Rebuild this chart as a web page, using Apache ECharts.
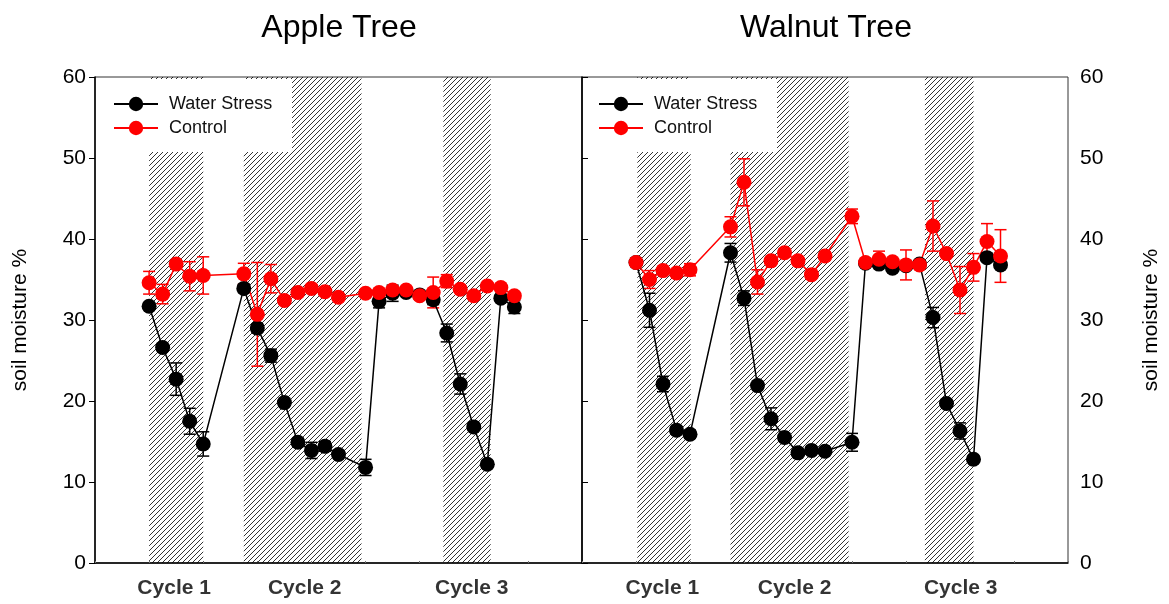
<!DOCTYPE html>
<html>
<head>
<meta charset="utf-8">
<script src="https://cdn.jsdelivr.net/npm/echarts@6/dist/echarts.min.js"></script>
<style>
  html, body { margin: 0; padding: 0; background: #fff; }
  #chart { width: 1169px; height: 604px; }
</style>
</head>
<body>
<div id="chart"></div>
<script>
// Sampling days (same for both trees and both treatments)
const days = [4, 5, 6, 7, 8, 11, 12, 13, 14, 15, 16, 17, 18, 20, 21, 22, 23, 24, 25, 26, 27, 28, 29, 30, 31];

// Apple tree soil moisture (%) and standard errors
const appleStress    = [31.7, 26.6, 22.7, 17.5, 14.7, 33.9, 29.0, 25.6, 19.8, 14.9, 13.9, 14.4, 13.4, 11.8, 32.3, 33.3, 33.4, 33.1, 32.5, 28.4, 22.1, 16.8, 12.2, 32.7, 31.6];
const appleStressErr = [0.4, 0.4, 2.0, 1.6, 1.5, 0.5, 0.5, 0.8, 0.4, 0.5, 1.0, 0.6, 0.4, 1.0, 0.8, 1.0, 0.4, 0.4, 0.6, 1.1, 1.25, 0.4, 0.4, 0.4, 0.8];
const appleControl    = [34.6, 33.2, 36.9, 35.4, 35.5, 35.7, 30.7, 35.1, 32.4, 33.4, 33.9, 33.5, 32.8, 33.3, 33.4, 33.7, 33.7, 33.0, 33.4, 34.8, 33.8, 33.0, 34.2, 34.0, 33.0];
const appleControlErr = [1.4, 1.2, 0.4, 1.8, 2.3, 1.3, 6.4, 1.75, 0.4, 0.4, 0.4, 0.4, 0.4, 0.4, 0.4, 0.4, 0.4, 0.4, 1.9, 0.8, 0.4, 0.4, 0.4, 0.4, 0.4];

// Walnut tree soil moisture (%) and standard errors
const walnutStress    = [37.1, 31.2, 22.1, 16.4, 15.9, 38.3, 32.7, 21.9, 17.8, 15.5, 13.6, 13.9, 13.8, 14.9, 37.0, 36.9, 36.4, 36.7, 36.9, 30.3, 19.7, 16.3, 12.8, 37.7, 36.8];
const walnutStressErr = [0.4, 2.1, 0.95, 0.4, 0.5, 1.15, 0.9, 0.4, 1.35, 0.4, 0.4, 0.4, 0.4, 1.1, 0.4, 0.4, 0.4, 0.4, 0.4, 1.25, 0.4, 1.0, 0.4, 0.4, 0.4];
const walnutControl    = [37.1, 35.0, 36.1, 35.8, 36.2, 41.5, 47.0, 34.7, 37.3, 38.3, 37.3, 35.6, 37.9, 42.8, 37.1, 37.5, 37.2, 36.8, 36.8, 41.6, 38.2, 33.7, 36.5, 39.7, 37.9];
const walnutControlErr = [0.4, 1.1, 0.4, 0.4, 0.75, 1.25, 2.9, 1.5, 0.4, 0.5, 0.4, 0.4, 0.5, 0.9, 0.4, 1.0, 0.4, 1.85, 0.4, 3.1, 0.4, 2.9, 1.7, 2.2, 3.25];

// Drought cycles (start day, end day)
const appleCycles  = [[4, 8], [11, 19.7], [25.75, 29.25]];
const walnutCycles = [[4.1, 8.05], [11, 19.75], [25.4, 29.0]];

// Cycle captions and the day each is centred on
const cycleNames = ['Cycle 1', 'Cycle 2', 'Cycle 3'];
const appleCycleLabelDay  = [5.85, 15.5, 27.85];
const walnutCycleLabelDay = [5.95, 15.75, 28.05];

const panelTitles = ['Apple Tree', 'Walnut Tree'];
const seriesNames = ['Water Stress', 'Control'];
const yTitle = 'soil moisture %';

const FONT = 'Liberation Sans, Arial, sans-serif';

// Diagonal hatch fill for the cycle bands
function hatchCanvas() {
  const s = 5;
  const c = document.createElement('canvas');
  c.width = s; c.height = s;
  const g = c.getContext('2d');
  g.strokeStyle = '#000';
  g.lineWidth = 0.8;
  g.beginPath();
  g.moveTo(0, s); g.lineTo(s, 0);
  g.moveTo(-1, 1); g.lineTo(1, -1);
  g.moveTo(s - 1, s + 1); g.lineTo(s + 1, s - 1);
  g.stroke();
  return c;
}
const hatch = { image: hatchCanvas(), repeat: 'repeat' };

function pairs(vals) { return days.map((d, i) => [d, vals[i]]); }
function bars(vals, errs) { return days.map((d, i) => [d, vals[i] - errs[i], vals[i] + errs[i]]); }

function errorBarSeries(idx, vals, errs, color) {
  return {
    type: 'custom',
    xAxisIndex: idx, yAxisIndex: idx,
    silent: true,
    data: bars(vals, errs),
    encode: { x: 0, y: [1, 2] },
    renderItem: function (params, api) {
      const x = api.value(0);
      const lo = api.coord([x, api.value(1)]);
      const hi = api.coord([x, api.value(2)]);
      const w = 6;
      const style = { stroke: color, lineWidth: 1.5, fill: null };
      return {
        type: 'group',
        children: [
          { type: 'line', shape: { x1: lo[0], y1: lo[1], x2: hi[0], y2: hi[1] }, style: style },
          { type: 'line', shape: { x1: lo[0] - w, y1: lo[1], x2: lo[0] + w, y2: lo[1] }, style: style },
          { type: 'line', shape: { x1: hi[0] - w, y1: hi[1], x2: hi[0] + w, y2: hi[1] }, style: style }
        ]
      };
    },
    z: 3
  };
}

function lineSeries(idx, name, vals, color) {
  return {
    type: 'line',
    name: name,
    xAxisIndex: idx, yAxisIndex: idx,
    data: pairs(vals),
    symbol: 'circle',
    symbolSize: 15,
    itemStyle: { color: color },
    lineStyle: { color: color, width: 1.5 },
    emphasis: { disabled: true },
    animation: false,
    z: 3
  };
}

function bandSeries(idx, cycles) {
  return {
    type: 'line',
    xAxisIndex: idx, yAxisIndex: idx,
    data: [],
    silent: true,
    markArea: {
      silent: true,
      itemStyle: { color: hatch, borderWidth: 0 },
      data: cycles.map(c => [{ xAxis: c[0], yAxis: 0 }, { xAxis: c[1], yAxis: 60 }])
    },
    z: 1
  };
}

function captionSeries(idx, labelDays) {
  return {
    type: 'scatter',
    xAxisIndex: idx, yAxisIndex: idx,
    silent: true,
    clip: false,
    symbolSize: 0,
    data: labelDays.map((d, i) => ({ value: [d, 0], name: cycleNames[i] })),
    label: {
      show: true,
      position: 'bottom',
      distance: 15,
      formatter: '{b}',
      fontFamily: FONT,
      fontWeight: 'bold',
      fontSize: 21,
      color: '#000'
    },
    z: 5
  };
}

function xAxisFor(idx) {
  return {
    type: 'value', gridIndex: idx, min: 0, max: 36, interval: 4,
    axisLine: { show: true, onZero: false, lineStyle: { color: '#000', width: 1.5 } },
    axisTick: { show: true, inside: true, length: 2, lineStyle: { color: '#777' } },
    axisLabel: { show: false },
    splitLine: { show: false }
  };
}

function yAxisFor(idx, pos) {
  return {
    type: 'value', gridIndex: idx, position: pos, min: 0, max: 60, interval: 10,
    name: yTitle,
    nameLocation: 'middle',
    nameRotate: 90,
    nameGap: pos === 'left' ? 64 : 73,
    nameTextStyle: { fontFamily: FONT, fontSize: 21, color: '#000' },
    axisLine: { show: true, lineStyle: { color: '#000', width: 1.5 } },
    axisTick: { show: true, inside: false, length: 6, lineStyle: { color: '#000' } },
    axisLabel: { fontFamily: FONT, fontSize: 21, color: '#000', margin: pos === 'left' ? 9 : 12 },
    splitLine: { show: false }
  };
}

const chart = echarts.init(document.getElementById('chart'), null, { renderer: 'canvas' });

const legendBase = {
  orient: 'vertical',
  top: 90,
  itemWidth: 44,
  itemHeight: 18,
  itemGap: 6,
  data: seriesNames,
  selectedMode: false,
  lineStyle: { width: 2 },
  textStyle: { fontFamily: FONT, fontSize: 18, color: '#111', padding: [0, 0, 0, 6] },
  z: 20
};

chart.setOption({
  backgroundColor: '#fff',
  animation: false,
  title: [
    { text: panelTitles[0], left: 334, top: 7, textAlign: 'center',
      textStyle: { fontFamily: FONT, fontSize: 32, fontWeight: 'normal', color: '#000' } },
    { text: panelTitles[1], left: 821, top: 7, textAlign: 'center',
      textStyle: { fontFamily: FONT, fontSize: 32, fontWeight: 'normal', color: '#000' } }
  ],
  legend: [
    Object.assign({}, legendBase, { left: 108 }),
    Object.assign({}, legendBase, { left: 593 })
  ],
  graphic: [
    { type: 'rect', left: 96, top: 79, shape: { width: 196, height: 73 }, style: { fill: '#fff' }, z: 10, silent: true },
    { type: 'rect', left: 583, top: 79, shape: { width: 194, height: 73 }, style: { fill: '#fff' }, z: 10, silent: true }
  ],
  grid: [
    { left: 95, top: 77, width: 487, height: 486, show: true, borderColor: '#333', borderWidth: 1, backgroundColor: 'transparent' },
    { left: 582, top: 77, width: 486, height: 486, show: true, borderColor: '#333', borderWidth: 1, backgroundColor: 'transparent' }
  ],
  xAxis: [xAxisFor(0), xAxisFor(1)],
  yAxis: [yAxisFor(0, 'left'), yAxisFor(1, 'right')],
  series: [
    bandSeries(0, appleCycles),
    bandSeries(1, walnutCycles),
    errorBarSeries(0, appleStress, appleStressErr, '#000'),
    lineSeries(0, seriesNames[0], appleStress, '#000'),
    errorBarSeries(0, appleControl, appleControlErr, '#ff0000'),
    lineSeries(0, seriesNames[1], appleControl, '#ff0000'),
    errorBarSeries(1, walnutStress, walnutStressErr, '#000'),
    lineSeries(1, seriesNames[0], walnutStress, '#000'),
    errorBarSeries(1, walnutControl, walnutControlErr, '#ff0000'),
    lineSeries(1, seriesNames[1], walnutControl, '#ff0000'),
    captionSeries(0, appleCycleLabelDay),
    captionSeries(1, walnutCycleLabelDay)
  ]
});
</script>
</body>
</html>
